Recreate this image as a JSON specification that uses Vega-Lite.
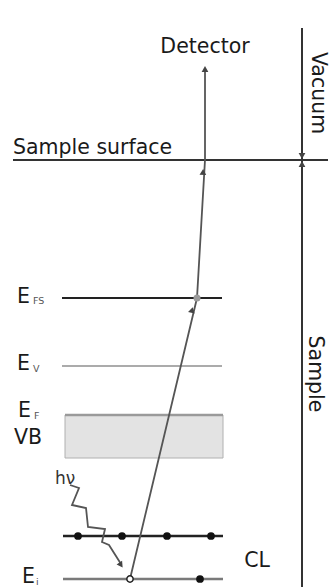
{
  "$schema": "https://vega.github.io/schema/vega-lite/v6.json",
  "width": 331,
  "height": 587,
  "autosize": "none",
  "padding": 0,
  "background": "white",
  "config": {"view": {"stroke": null}, "axis": {"disable": true}, "legend": {"disable": true}},
  "datasets": {
    "band": [{"name": "VB", "x1": 65, "x2": 223, "y1": 172, "y2": 129}],
    "levels": [
      {"level": "surface", "x1": 13, "x2": 328, "y": 427},
      {"level": "E_FS", "x1": 62, "x2": 222, "y": 289},
      {"level": "E_V", "x1": 62, "x2": 222, "y": 221},
      {"level": "E_F", "x1": 65, "x2": 223, "y": 172},
      {"level": "CL", "x1": 63, "x2": 223, "y": 51},
      {"level": "E_i", "x1": 63, "x2": 223, "y": 8}
    ],
    "boundary": [{"x": 302, "y1": 559, "y2": 0}],
    "electron": [
      {"step": 1, "x": 130, "y": 8},
      {"step": 2, "x": 197, "y": 289},
      {"step": 3, "x": 205, "y": 427},
      {"step": 4, "x": 205, "y": 519}
    ],
    "photon": [
      {"step": 1, "x": 70, "y": 102},
      {"step": 2, "x": 79, "y": 99},
      {"step": 3, "x": 72, "y": 82},
      {"step": 4, "x": 86, "y": 79},
      {"step": 5, "x": 88, "y": 60},
      {"step": 6, "x": 105, "y": 58},
      {"step": 7, "x": 102, "y": 45},
      {"step": 8, "x": 109, "y": 42},
      {"step": 9, "x": 121, "y": 23}
    ],
    "heads": [
      {"x": 205, "y": 518, "dir": 0},
      {"x": 203, "y": 415, "dir": 3},
      {"x": 192, "y": 277, "dir": 13},
      {"x": 121, "y": 22, "dir": 145},
      {"x": 302, "y": 431, "dir": 180},
      {"x": 302, "y": 423, "dir": 0}
    ],
    "electrons": [
      {"x": 78, "y": 51},
      {"x": 122, "y": 51},
      {"x": 167, "y": 51},
      {"x": 211, "y": 51},
      {"x": 200, "y": 8}
    ],
    "hole": [{"x": 130, "y": 8}],
    "crossing": [{"x": 197, "y": 289}],
    "leftText": [
      {"t": "Sample surface", "x": 13, "y": 433},
      {"t": "E", "x": 17, "y": 284},
      {"t": "E", "x": 17, "y": 217},
      {"t": "E", "x": 18, "y": 170},
      {"t": "VB", "x": 14, "y": 143},
      {"t": "E", "x": 22, "y": 4}
    ],
    "centerText": [
      {"t": "Detector", "x": 205, "y": 534},
      {"t": "CL", "x": 257, "y": 20}
    ],
    "subText": [
      {"t": "FS", "x": 33, "y": 283},
      {"t": "V", "x": 33, "y": 215},
      {"t": "F", "x": 34, "y": 168},
      {"t": "i", "x": 36, "y": 2}
    ],
    "hvText": [{"t": "hν", "x": 55, "y": 103}],
    "sideText": [
      {"t": "Vacuum", "x": 318, "y": 494},
      {"t": "Sample", "x": 315, "y": 213}
    ]
  },
  "layer": [
    {
      "data": {"name": "band"},
      "mark": {"type": "rect", "fill": "#e3e3e3", "stroke": "#b0b0b0", "strokeWidth": 1},
      "encoding": {
        "x": {"field": "x1", "type": "quantitative", "scale": {"domain": [0, 331], "nice": false, "zero": false}},
        "x2": {"field": "x2"},
        "y": {"field": "y1", "type": "quantitative", "scale": {"domain": [0, 587], "nice": false, "zero": false}},
        "y2": {"field": "y2"}
      }
    },
    {
      "data": {"name": "levels"},
      "mark": {"type": "rule"},
      "encoding": {
        "x": {"field": "x1", "type": "quantitative"},
        "x2": {"field": "x2"},
        "y": {"field": "y", "type": "quantitative"},
        "color": {"field": "level", "type": "nominal", "scale": {"domain": ["surface", "E_FS", "E_V", "E_F", "CL", "E_i"], "range": ["#333333", "#222222", "#ababab", "#9a9a9a", "#222222", "#7a7a7a"]}},
        "strokeWidth": {"field": "level", "type": "nominal", "scale": {"domain": ["surface", "E_FS", "E_V", "E_F", "CL", "E_i"], "range": [2, 2.5, 2, 2, 2, 3.5]}}
      }
    },
    {
      "data": {"name": "boundary"},
      "mark": {"type": "rule", "color": "#333333", "strokeWidth": 2},
      "encoding": {
        "x": {"field": "x", "type": "quantitative"},
        "y": {"field": "y1", "type": "quantitative"},
        "y2": {"field": "y2"}
      }
    },
    {
      "data": {"name": "electron"},
      "mark": {"type": "line", "color": "#555555", "strokeWidth": 1.8},
      "encoding": {
        "x": {"field": "x", "type": "quantitative"},
        "y": {"field": "y", "type": "quantitative"},
        "order": {"field": "step"}
      }
    },
    {
      "data": {"name": "photon"},
      "mark": {"type": "line", "color": "#555555", "strokeWidth": 1.8},
      "encoding": {
        "x": {"field": "x", "type": "quantitative"},
        "y": {"field": "y", "type": "quantitative"},
        "order": {"field": "step"}
      }
    },
    {
      "data": {"name": "heads"},
      "mark": {"type": "point", "shape": "triangle-up", "filled": true, "color": "#444444", "size": 45, "opacity": 1},
      "encoding": {
        "x": {"field": "x", "type": "quantitative"},
        "y": {"field": "y", "type": "quantitative"},
        "angle": {"field": "dir", "type": "quantitative", "scale": null}
      }
    },
    {
      "data": {"name": "crossing"},
      "mark": {"type": "point", "filled": true, "color": "#9a9a9a", "size": 50, "opacity": 1},
      "encoding": {
        "x": {"field": "x", "type": "quantitative"},
        "y": {"field": "y", "type": "quantitative"}
      }
    },
    {
      "data": {"name": "electrons"},
      "mark": {"type": "point", "filled": true, "color": "#111111", "size": 60, "opacity": 1},
      "encoding": {
        "x": {"field": "x", "type": "quantitative"},
        "y": {"field": "y", "type": "quantitative"}
      }
    },
    {
      "data": {"name": "hole"},
      "mark": {"type": "point", "filled": true, "fill": "white", "stroke": "#222222", "strokeWidth": 1.5, "size": 40, "opacity": 1},
      "encoding": {
        "x": {"field": "x", "type": "quantitative"},
        "y": {"field": "y", "type": "quantitative"}
      }
    },
    {
      "data": {"name": "leftText"},
      "mark": {"type": "text", "font": "DejaVu Sans", "fontSize": 20.5, "color": "#1a1a1a", "align": "left", "baseline": "alphabetic"},
      "encoding": {
        "x": {"field": "x", "type": "quantitative"},
        "y": {"field": "y", "type": "quantitative"},
        "text": {"field": "t"}
      }
    },
    {
      "data": {"name": "centerText"},
      "mark": {"type": "text", "font": "DejaVu Sans", "fontSize": 20.5, "color": "#1a1a1a", "align": "center", "baseline": "alphabetic"},
      "encoding": {
        "x": {"field": "x", "type": "quantitative"},
        "y": {"field": "y", "type": "quantitative"},
        "text": {"field": "t"}
      }
    },
    {
      "data": {"name": "subText"},
      "mark": {"type": "text", "font": "DejaVu Sans", "fontSize": 9.5, "color": "#555555", "align": "left", "baseline": "alphabetic"},
      "encoding": {
        "x": {"field": "x", "type": "quantitative"},
        "y": {"field": "y", "type": "quantitative"},
        "text": {"field": "t"}
      }
    },
    {
      "data": {"name": "hvText"},
      "mark": {"type": "text", "font": "DejaVu Sans", "fontSize": 17, "color": "#333333", "align": "left", "baseline": "alphabetic"},
      "encoding": {
        "x": {"field": "x", "type": "quantitative"},
        "y": {"field": "y", "type": "quantitative"},
        "text": {"field": "t"}
      }
    },
    {
      "data": {"name": "sideText"},
      "mark": {"type": "text", "font": "DejaVu Sans", "fontSize": 20.5, "color": "#1a1a1a", "align": "center", "baseline": "middle", "angle": 90},
      "encoding": {
        "x": {"field": "x", "type": "quantitative"},
        "y": {"field": "y", "type": "quantitative"},
        "text": {"field": "t"}
      }
    }
  ]
}
